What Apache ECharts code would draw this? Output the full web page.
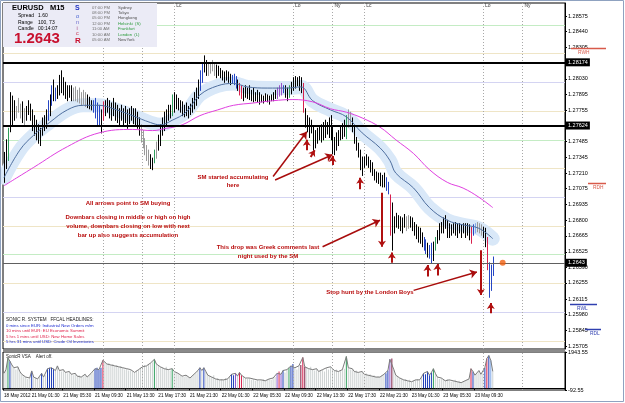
<!DOCTYPE html>
<html><head><meta charset="utf-8">
<script src="https://cdn.jsdelivr.net/npm/echarts/dist/echarts.min.js"></script>
<style>html,body{margin:0;padding:0;background:#fff}#c{width:625px;height:403px}</style>
</head><body><div id="c"></div>
<script>
// ---------- DATA ----------
const highs = [
1.2739,1.2750,1.2760,1.2791,1.2788,1.2784,1.2779,1.2786,1.2781,1.2783,
1.2777,1.2779,1.2784,1.2781,1.2776,1.2771,1.2767,1.2763,1.2760,1.2769,
1.2771,1.2776,1.2784,1.2789,1.2797,1.2802,1.2795,1.2797,1.2806,1.2810,
1.2804,1.2800,1.2797,1.2797,1.2797,1.2795,1.2796,1.2793,1.2795,1.2791,
1.2793,1.2791,1.2789,1.2787,1.2784,1.2784,1.2786,1.2782,1.2780,1.2776,
1.2783,1.2784,1.2786,1.2784,1.2782,1.2786,1.2782,1.2780,1.2777,1.2780,
1.2777,1.2779,1.2776,1.2777,1.2779,1.2777,1.2777,1.2774,1.2769,1.2763,
1.2758,1.2751,1.2745,1.2741,1.2737,1.2734,1.2741,1.2748,1.2754,1.2763,
1.2769,1.2774,1.2776,1.2780,1.2780,1.2789,1.2791,1.2789,1.2786,1.2784,
1.2783,1.2780,1.2782,1.2779,1.2781,1.2786,1.2791,1.2795,1.2802,1.2810,
1.2817,1.2823,1.2819,1.2817,1.2817,1.2819,1.2817,1.2815,1.2814,1.2812,
1.2810,1.2809,1.2810,1.2809,1.2807,1.2806,1.2807,1.2805,1.2802,1.2799,
1.2797,1.2795,1.2797,1.2795,1.2797,1.2793,1.2795,1.2791,1.2793,1.2791,
1.2789,1.2788,1.2790,1.2789,1.2788,1.2789,1.2791,1.2793,1.2795,1.2797,
1.2799,1.2797,1.2797,1.2795,1.2797,1.2800,1.2804,1.2805,1.2804,1.2805,
1.2804,1.2799,1.2777,1.2771,1.2769,1.2767,1.2761,1.2758,1.2760,1.2761,
1.2763,1.2765,1.2767,1.2765,1.2769,1.2771,1.2761,1.2752,1.2756,1.2758,
1.2761,1.2764,1.2767,1.2771,1.2776,1.2774,1.2769,1.2761,1.2752,1.2747,
1.2741,1.2735,1.2735,1.2737,1.2735,1.2732,1.2730,1.2724,1.2722,1.2721,
1.2721,1.2719,1.2721,1.2717,1.2713,1.2702,1.2695,1.2683,1.2686,1.2684,
1.2683,1.2682,1.2685,1.2683,1.2684,1.2683,1.2682,1.2678,1.2676,1.2674,
1.2673,1.2669,1.2665,1.2663,1.2660,1.2658,1.2660,1.2661,1.2665,1.2671,
1.2677,1.2678,1.2682,1.2684,1.2680,1.2677,1.2676,1.2677,1.2678,1.2677,
1.2677,1.2676,1.2677,1.2677,1.2677,1.2676,1.2674,1.2676,1.2677,1.2678,
1.2677,1.2676,1.2674,1.2673,1.2665,1.2643,1.2641,1.2648];
const lows = [
1.2713,1.2725,1.2732,1.2757,1.2763,1.2767,1.2769,1.2774,1.2769,1.2765,
1.2762,1.2767,1.2772,1.2767,1.2758,1.2754,1.2750,1.2747,1.2745,1.2754,
1.2758,1.2760,1.2767,1.2771,1.2780,1.2784,1.2784,1.2786,1.2789,1.2791,
1.2789,1.2786,1.2784,1.2787,1.2784,1.2784,1.2784,1.2783,1.2782,1.2780,
1.2781,1.2779,1.2778,1.2777,1.2776,1.2774,1.2769,1.2763,1.2763,1.2756,
1.2767,1.2771,1.2774,1.2769,1.2767,1.2771,1.2767,1.2765,1.2763,1.2767,
1.2762,1.2765,1.2760,1.2764,1.2767,1.2764,1.2763,1.2760,1.2754,1.2748,
1.2743,1.2737,1.2732,1.2728,1.2725,1.2724,1.2730,1.2734,1.2741,1.2745,
1.2754,1.2758,1.2763,1.2767,1.2769,1.2771,1.2774,1.2777,1.2776,1.2774,
1.2771,1.2770,1.2771,1.2769,1.2772,1.2774,1.2777,1.2780,1.2786,1.2793,
1.2800,1.2809,1.2806,1.2806,1.2808,1.2810,1.2806,1.2804,1.2806,1.2804,
1.2802,1.2800,1.2802,1.2800,1.2798,1.2799,1.2798,1.2795,1.2793,1.2789,
1.2786,1.2784,1.2787,1.2786,1.2785,1.2784,1.2783,1.2784,1.2783,1.2781,
1.2783,1.2782,1.2784,1.2783,1.2781,1.2784,1.2784,1.2786,1.2786,1.2788,
1.2789,1.2791,1.2787,1.2784,1.2787,1.2790,1.2793,1.2795,1.2797,1.2793,
1.2791,1.2774,1.2761,1.2757,1.2752,1.2756,1.2741,1.2743,1.2747,1.2750,
1.2748,1.2750,1.2752,1.2755,1.2752,1.2750,1.2738,1.2737,1.2741,1.2745,
1.2750,1.2751,1.2753,1.2751,1.2761,1.2763,1.2757,1.2747,1.2741,1.2735,
1.2724,1.2719,1.2726,1.2728,1.2726,1.2722,1.2719,1.2715,1.2713,1.2712,
1.2710,1.2709,1.2709,1.2706,1.2703,1.2667,1.2654,1.2669,1.2674,1.2673,
1.2671,1.2669,1.2674,1.2671,1.2673,1.2674,1.2671,1.2667,1.2664,1.2661,
1.2660,1.2657,1.2654,1.2651,1.2648,1.2647,1.2643,1.2645,1.2654,1.2660,
1.2663,1.2669,1.2669,1.2673,1.2665,1.2665,1.2667,1.2669,1.2667,1.2665,
1.2669,1.2665,1.2669,1.2665,1.2667,1.2663,1.2660,1.2667,1.2669,1.2670,
1.2669,1.2667,1.2665,1.2657,1.2637,1.2613,1.2619,1.2632];
// bar class: k normal, g grey, b blue, r red, G green, p purple, l light blue
const barTypes =
"kkGkkkgggk"+"gkkkkkkkkk"+"kkbkbkbkkk"+"kkkkkggggg"+"ggkkkbbbbk"+
"rkkkkkkkkk"+"kkkkkkkkkg"+"ggggkkGgkk"+"kkkkkGkkkk"+"kkkkkkkkkb"+
"bkkggggkkk"+"kkkkkbbbkr"+"rkkkkkkkkk"+"kkkkkkkkpp"+"pbkkGkkkkk"+
"krkkkkkkkk"+"kkkkkkkkkk"+"kkkGggkkkk"+"kkkkkkkkkk"+"kkkbbrkkkk"+
"kkkggkkkkk"+"kkbbkbbkGk"+"kkkkkkkkkk"+"kkkkkkrblg"+"ggkkrbbb";
const volumes = [
800,1000,1620,1450,1250,1100,1000,1150,900,750,
650,600,500,550,930,600,550,500,650,800,
600,700,1050,1100,1100,1050,950,1200,950,900,
1000,850,800,900,750,700,800,650,700,600,
650,750,600,700,800,850,1050,1100,1000,1100,
1500,1400,1300,1350,1250,1300,1200,1250,1150,1200,
1100,1000,1050,950,1000,900,850,950,1000,1100,
1150,1250,1200,1300,1350,1400,1550,1300,1200,1150,
1100,1050,1150,1000,950,1050,900,850,800,700,
650,600,700,600,550,650,750,800,950,1100,
950,1100,900,700,650,600,700,500,550,450,
500,450,550,500,600,750,700,800,650,850,
700,600,550,500,550,450,500,400,450,400,
450,500,400,450,500,450,550,600,800,900,
750,950,850,1000,1100,1200,1300,1100,1000,1200,
1250,1650,1150,1100,1050,1150,1000,950,1050,900,
950,1000,900,1100,1000,1150,1050,950,1000,900,
950,1000,1050,1700,1100,1000,1050,900,950,850,
800,900,750,800,700,750,650,700,600,650,
600,700,750,800,950,1550,1600,1000,700,600,
550,500,450,500,400,450,350,400,450,500,
450,600,800,750,900,700,850,1050,800,600,
500,550,450,400,500,450,350,400,450,350,
400,300,350,400,450,500,1050,900,700,800,
950,750,800,1100,1600,1750,1500,900];
const volTypes =
"nnGbnnnnnn"+"nnnnbnnnnb"+"nnbbbbnnnn"+"nnnnnnnnnn"+"nnnnnnbbbb"+
"rnnnnnnnnn"+"nnnnnnnnnn"+"nnnnnnGnnn"+"nnnnnGnnnn"+"nnnnnnnnnb"+
"nbnnnnnnnn"+"nnnnnbbpnr"+"rnnnnnnnnn"+"nnnnnnnnpr"+"pbnnGbbnnn"+
"mrmnnnnnnn"+"nnnnnnnnnn"+"nnnGnnnnnn"+"nnnnnnnnnn"+"nnnbbpmnnn"+
"nnnnnnnnnn"+"nnbbbbbGnn"+"nnnnnnnnnn"+"nnnnnnrbnn"+"nnnbrbln";
const blueIdx = [0,8,15,23,32,40,48,57,65,74,79,85,92,99,108,116,123,133,143,150,156,165,173,181,190,195,198,207,215,224,232,240,247];
const blueVal = [1.2717,1.2741,1.2754,1.2765,1.2776,1.2780,1.2780,1.2776,1.2771,1.2765,1.2763,1.2767,1.2774,1.2789,1.2797,1.2799,1.2796,1.2795,1.2795,1.2796,1.2784,1.2776,1.2770,1.2756,1.2743,1.2732,1.2721,1.2708,1.2691,1.2680,1.2676,1.2673,1.2664];
const magIdx = [0,15,32,48,65,75,82,90,99,108,116,126,136,146,156,165,173,181,190,198,207,215,224,232,240,247];
const magVal = [1.2710,1.2726,1.2744,1.2756,1.2759,1.2758,1.2760,1.2763,1.2771,1.2776,1.2780,1.2782,1.2784,1.2785,1.2783,1.2777,1.2774,1.2769,1.2761,1.2750,1.2738,1.2724,1.2713,1.2708,1.2700,1.2691];
const priceTicks = [1.28575,1.28440,1.28305,1.28170,1.28030,1.27895,1.27755,1.27620,1.27485,1.27345,1.27210,1.27075,1.26935,1.26800,1.26665,1.26525,1.26390,1.26255,1.26115,1.25980,1.25845,1.25705];
const volTicks = [-92.55, 1943.55];
const tickLabels = ['18 May 2012','21 May 01:30','21 May 05:30','21 May 09:30','21 May 13:30','21 May 17:30','21 May 21:30','22 May 01:30','22 May 05:30','22 May 09:30','22 May 13:30','22 May 17:30','22 May 21:30','23 May 01:30','23 May 05:30','23 May 09:30'];
const levels00 = [1.2800, 1.2700, 1.2600];
const levels50 = [1.2850, 1.2750, 1.2650];
const levels25 = [1.2825, 1.2775, 1.2725, 1.2675, 1.2625, 1.2575];
const userLines = [1.28174, 1.27624];
const lastPrice = 1.2643;
const rangeNames = ['RWH','RDH','RWL','RDL'];
const rangeVals = [1.2830, 1.2712, 1.2607, 1.2585];
const sessionNames = ['Lo','Ny','Lc','Lo','Ny','Lc','Lo','Ny'];
const sessionIdx = [50,70,86,146,166,182,242,262];
// arrows: [x1,p1,x2,p2] (bar index, price)
const arrowsLong = [[135.9,1.2718,152.5,1.2757],[137.4,1.2715,166.2,1.2737],[160.6,1.2657,189.9,1.2680],[207.1,1.2619,239.4,1.2635]];
const arrowsShort = [[152.5,1.2741,152.5,1.2750],[155,1.2735,157,1.2741],[166.2,1.2728,166.2,1.2736],[180.3,1.2707,180.3,1.2717],
  [190.9,1.2704,190.9,1.2657],[196,1.2643,196,1.2652],[214.1,1.2631,214.1,1.2641],[218.7,1.2632,218.7,1.2642],
  [241.4,1.2654,241.4,1.2615],[246,1.2599,246,1.2608]];

// ---------- CATEGORIES (15-minute bars) ----------
const N_SLOTS = 284;
const categories = [];
for (let i = 0; i < N_SLOTS; i++) {
  const mins = i < 8 ? 22 * 60 + i * 15 : (i - 8) * 15;
  const day = i < 8 ? 18 : 21 + Math.floor(mins / 1440);
  const m = mins % 1440;
  categories.push(day + ' May ' + String(Math.floor(m / 60)).padStart(2, '0') + ':' + String(m % 60).padStart(2, '0'));
}
const showTick = (idx, val) => idx === 0 || tickLabels.indexOf(val) >= 0;

const barColor = {k:'#000000', g:'#9a9a9a', b:'#2646c4', r:'#d8204c', G:'#2f9e5c', p:'#9a52c8', l:'#7fa8e8'};
const volColor = {n:'#cdd2d2', b:'#1f3fb8', r:'#d8204c', G:'#2f9e5c', p:'#8a5ad0', m:'#7a1a40', l:'#7fa8e8'};
const FONT = 'Liberation Sans';

const chart = echarts.init(document.getElementById('c'), null, {renderer: 'canvas'});

const levelLines = []
  .concat(levels00.map(v => ({yAxis: v, lineStyle: {color: '#d4d4f2', width: 1, type: 'solid'}})))
  .concat(levels50.map(v => ({yAxis: v, lineStyle: {color: '#c4ecc4', width: 1, type: 'solid'}})))
  .concat(levels25.map(v => ({yAxis: v, lineStyle: {color: '#efe5c6', width: 1, type: 'solid'}})))
  .concat(sessionIdx.map(i => ({xAxis: i, lineStyle: {color: '#a8a8a8', width: 1, type: [1, 2]}})));

const arrowMarks = arrowsLong.map(a => [
  {coord: [a[0], a[1]], symbol: 'none', lineStyle: {color: '#a80c0c', width: 1.5, type: 'solid'}},
  {coord: [a[2], a[3]], symbol: 'arrow', symbolSize: 7}
]).concat(arrowsShort.map(a => [
  {coord: [a[0], a[1]], symbol: 'none', lineStyle: {color: '#b01010', width: 2, type: 'solid'}},
  {coord: [a[2], a[3]], symbol: 'arrow', symbolSize: 6}
]));

const option = {
  animation: false,
  backgroundColor: '#ffffff',
  grid: [
    {left: 3, top: 3, width: 562, height: 346, show: true, borderColor: '#000', borderWidth: 1},
    {left: 3, top: 352, width: 562, height: 38, show: true, borderColor: '#000', borderWidth: 1}
  ],
  xAxis: [
    {type: 'category', gridIndex: 0, data: categories, boundaryGap: true,
      axisLine: {show: false}, axisTick: {show: false}, axisLabel: {show: false}, splitLine: {show: false}},
    {type: 'category', gridIndex: 1, data: categories, boundaryGap: true,
      axisLine: {show: true, lineStyle: {color: '#000'}},
      axisTick: {show: true, interval: showTick, length: 2, lineStyle: {color: '#000'}},
      axisLabel: {show: true, interval: showTick, showMinLabel: true, hideOverlap: false,
        formatter: (v, i) => i === 0 ? tickLabels[0] : v,
        fontSize: 4.6, fontFamily: FONT, color: '#000', align: 'left', margin: 3},
      splitLine: {show: false}}
  ],
  yAxis: [
    {type: 'value', gridIndex: 0, position: 'right', min: 1.2568, max: 1.2869,
      splitLine: {show: false}, axisLine: {show: true, lineStyle: {color: '#000'}},
      axisTick: {show: true, customValues: priceTicks, length: 2, lineStyle: {color: '#000'}},
      axisLabel: {customValues: priceTicks, formatter: v => v.toFixed(5), fontSize: 5.5, fontFamily: FONT, color: '#000', margin: 3}},
    {type: 'value', gridIndex: 1, position: 'right', min: -92.55, max: 1943.55,
      splitLine: {show: false}, axisLine: {show: true, lineStyle: {color: '#000'}},
      axisTick: {show: true, customValues: volTicks, length: 2, lineStyle: {color: '#000'}},
      axisLabel: {customValues: volTicks, formatter: v => v.toFixed(2), fontSize: 5.5, fontFamily: FONT, color: '#000', margin: 3}}
  ],
  series: [
    {type: 'line', name: 'band', xAxisIndex: 0, yAxisIndex: 0, silent: true, z: 1,
      data: blueIdx.map((x, k) => [x, blueVal[k]]), symbol: 'none', smooth: 0.4,
      lineStyle: {width: 14, color: '#d9e8f8', cap: 'round', join: 'round'},
      markLine: {silent: true, symbol: 'none', precision: 6, label: {show: false}, animation: false, z: 0, data: levelLines}},
    {type: 'custom', name: 'bars', xAxisIndex: 0, yAxisIndex: 0, z: 3, silent: true,
      data: highs.map((h, i) => [i, lows[i], h]),
      encode: {x: 0, y: [1, 2]},
      renderItem: (params, api) => {
        const i = api.value(0);
        const p1 = api.coord([i, api.value(1)]);
        const p2 = api.coord([i, api.value(2)]);
        const x = Math.round(p1[0]) + 0.5;
        return {type: 'line', shape: {x1: x, y1: p1[1] + 0.5, x2: x, y2: p2[1] - 0.5},
          style: {stroke: barColor[barTypes[params.dataIndex]], lineWidth: 1}};
      }},
    {type: 'line', name: 'ema', xAxisIndex: 0, yAxisIndex: 0, silent: true, z: 4,
      data: blueIdx.map((x, k) => [x, blueVal[k]]), symbol: 'none', smooth: 0.4,
      lineStyle: {width: 1, color: '#4f6f9f'},
      markLine: {silent: true, symbol: 'none', precision: 6, animation: false,
        data: userLines.map(v => ({yAxis: v, lineStyle: {color: '#000', width: 2, type: 'solid'},
            label: {show: true, position: 'end', formatter: () => v.toFixed(5), color: '#fff', backgroundColor: '#000',
              fontSize: 5.5, fontFamily: FONT, padding: [1, 2, 1, 2], distance: 1}}))
          .concat([{yAxis: lastPrice, lineStyle: {color: '#606060', width: 1, type: 'solid'},
            label: {show: true, position: 'end', formatter: () => lastPrice.toFixed(4), color: '#fff', backgroundColor: '#000',
              fontSize: 5.5, fontFamily: FONT, padding: [1, 2, 1, 2], distance: 1}}])}},
    {type: 'line', name: 'ema89', xAxisIndex: 0, yAxisIndex: 0, silent: true, z: 4,
      data: magIdx.map((x, k) => [x, magVal[k]]), symbol: 'none', smooth: 0.4,
      lineStyle: {width: 1, color: '#e040e0'},
      markLine: {silent: true, animation: false, precision: 6, label: {show: false}, z: 6, data: arrowMarks}},
    {type: 'scatter', name: 'last', xAxisIndex: 0, yAxisIndex: 0, z: 6, silent: true,
      data: [[252, lastPrice]], symbolSize: 6, itemStyle: {color: '#f06010'}},
    {type: 'bar', name: 'vol', xAxisIndex: 1, yAxisIndex: 1, silent: true, barWidth: 1, z: 2,
      data: volumes.map((v, i) => ({value: v, itemStyle: {color: volColor[volTypes[i]]}})),
      markLine: {silent: true, symbol: 'none', label: {show: false}, animation: false,
        data: sessionIdx.map(i => ({xAxis: i, lineStyle: {color: '#a8a8a8', width: 1, type: [1, 2]}}))}},
    {type: 'line', name: 'volline', xAxisIndex: 1, yAxisIndex: 1, silent: true, z: 3,
      data: volumes, symbol: 'none', lineStyle: {width: 1, color: '#7c7c7c'}}
  ]
};
chart.setOption(option);

// ---------- annotations / overlays ----------
const yPx = p => chart.convertToPixel({yAxisIndex: 0}, p);
const xPx = i => chart.convertToPixel({xAxisIndex: 0}, i);
const T = (x, y, s, fill, size, bold, align) => ({type: 'text', x: x, y: y, silent: true, z: 100,
  style: {text: s, fill: fill, font: (bold ? 'bold ' : '') + size + 'px "' + FONT + '"', textAlign: align || 'left', textVerticalAlign: 'middle'}});
const g = [];
g.push({type: 'rect', shape: {x: 3, y: 349.5, width: 562, height: 2.5}, style: {fill: '#8a8a8a'}, z: 50, silent: true});
g.push({type: 'rect', shape: {x: 3, y: 3, width: 154, height: 44}, style: {fill: '#ebebf6'}, z: 90, silent: true});
g.push(T(12, 8, 'EURUSD   M15', '#000', 7.5, true));
g.push(T(18, 16, 'Spread', '#000', 5)); g.push(T(38, 16, '1.60', '#000', 5));
g.push(T(18, 22.5, 'Range', '#000', 5)); g.push(T(38, 22.5, '100, 73', '#000', 5));
g.push(T(18, 29, 'Candle', '#000', 5)); g.push(T(38, 29, '00:14:07', '#000', 5));
g.push(T(14, 39, lastPrice.toFixed(4), '#c8102e', 15, true));
g.push(T(75, 8.5, 'S', '#1d2fc0', 7, true)); g.push(T(76, 16, 'o', '#3a58d0', 5.5));
g.push(T(76, 22, 'n', '#6a6acc', 5.5)); g.push(T(76.5, 28, 'i', '#a04080', 5.5));
g.push(T(76, 33.5, 'c', '#c83050', 5.5)); g.push(T(75, 41, 'R', '#c8102e', 8, true));
const clocks = [['07:00 PM','Sydney','#505050'],['08:00 PM','Tokyo','#505050'],['05:00 PM','Hongkong','#505050'],
  ['12:00 PM','Helsinki  (S)','#2a9a3a'],['11:00 AM','Frankfurt','#2a9a3a'],['10:00 AM','London  (L)','#2a9a3a'],['05:00 AM','NewYork','#505050']];
clocks.forEach((c, k) => { const y = 7.5 + k * 5.4; g.push(T(92, y, c[0], '#707070', 4.2)); g.push(T(118, y, c[1], c[2], 4.2)); });
sessionIdx.forEach((i, k) => { const x = xPx(i); if (x > 160) g.push(T(x + 2, 6, sessionNames[k], '#404040', 5)); });
const RED = '#b80c0c';
g.push(T(233, 177, 'SM started accumulating', RED, 6, true, 'center'));
g.push(T(233, 185.5, 'here', RED, 6, true, 'center'));
g.push(T(128, 203, 'All arrows point to SM buying', RED, 6, true, 'center'));
g.push(T(128, 217, 'Downbars closing in middle or high on high', RED, 6, true, 'center'));
g.push(T(128, 226, 'volume, downbars closing on low with next', RED, 6, true, 'center'));
g.push(T(128, 235, 'bar up also suggests accumulation', RED, 6, true, 'center'));
g.push(T(268, 247, 'This drop was Greek comments last', RED, 6, true, 'center'));
g.push(T(268, 256, 'night used by the SM', RED, 6, true, 'center'));
g.push(T(370, 292, 'Stop hunt by the London Boys', RED, 6, true, 'center'));
g.push(T(6, 320, 'SONIC R. SYSTEM   FFCAL HEADLINES:', '#202020', 4.6));
g.push(T(6, 325.5, '0 mins since EUR: Industrial New Orders m/m', '#1a2ad0', 4.3));
g.push(T(6, 331, '10 mins until EUR: EU Economic Summit', '#e0204a', 4.3));
g.push(T(6, 336.5, '5 hrs 1 mins until USD: New Home Sales', '#e0204a', 4.3));
g.push(T(6, 342, '5 hrs 31 mins until USD: Crude Oil Inventories', '#1a2ad0', 4.3));
g.push(T(6, 357, 'SonicR VSA    Alert off.', '#202020', 4.5));
const rangeCol = ['#d85a4a', '#d85a4a', '#3040b0', '#3040b0'];
const rangeX1 = [571, 588, 570, 585];
const rangeX2 = [606, 606, 597, 601];
rangeNames.forEach((n, k) => {
  const y = Math.round(yPx(rangeVals[k])) + 0.5;
  g.push({type: 'line', shape: {x1: rangeX1[k], y1: y, x2: rangeX2[k], y2: y}, style: {stroke: rangeCol[k], lineWidth: 1.5}, z: 60, silent: true});
  g.push(T(rangeX1[k] + (k % 2 ? 5 : 7), y + 4.5, n, rangeCol[k], 4.8));
});
g.push({type: 'rect', shape: {x: 0.5, y: 0.5, width: 623, height: 401}, style: {fill: 'none', stroke: '#8fa2c0', lineWidth: 1}, z: 120, silent: true});
chart.setOption({graphic: g});
</script>
</body></html>
